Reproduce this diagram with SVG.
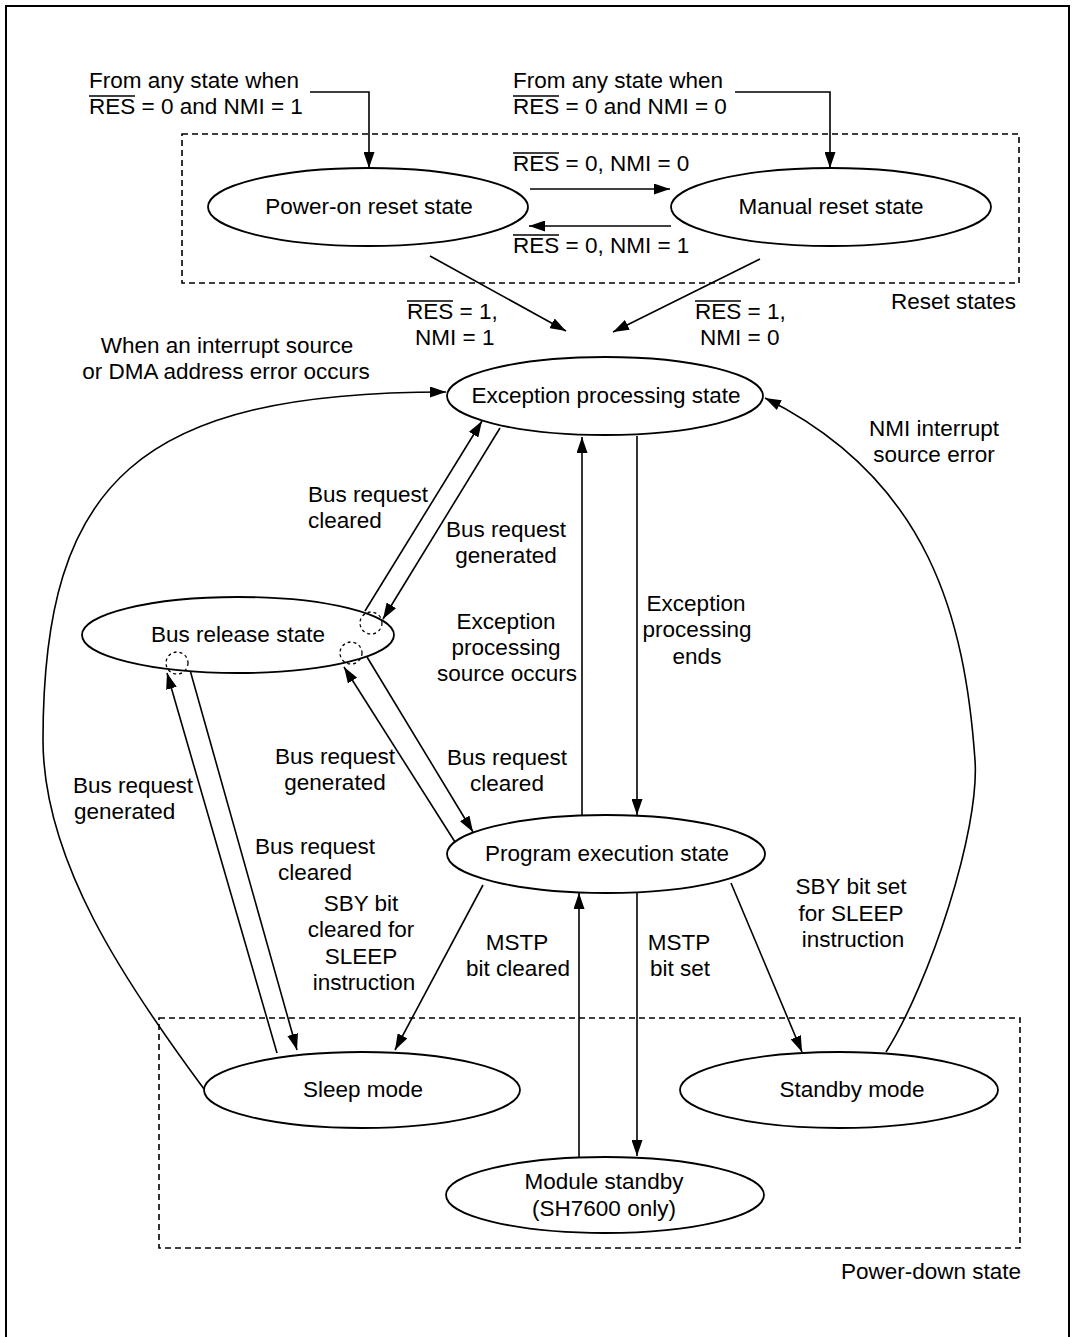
<svg xmlns="http://www.w3.org/2000/svg" width="1075" height="1337" viewBox="0 0 1075 1337">
<defs>
<marker id="arr" viewBox="0 0 16 11" refX="16" refY="5.5" markerWidth="16" markerHeight="11" markerUnits="userSpaceOnUse" orient="auto">
<path d="M0,0 L16,5.5 L0,11 z" fill="#000"/>
</marker>
<style>
text{font-family:"Liberation Sans",Arial,Helvetica,sans-serif;font-size:22.5px;fill:#000}
.m{text-anchor:middle}
.node{fill:#fff;stroke:#000;stroke-width:1.8}
.dash{fill:none;stroke:#000;stroke-width:1.6;stroke-dasharray:6,4}
.c{fill:none;stroke:#000;stroke-width:1.6}
.a{fill:none;stroke:#000;stroke-width:1.6;marker-end:url(#arr)}
.ov{stroke:#000;stroke-width:1.6}
.dc{fill:none;stroke:#000;stroke-width:1.3;stroke-dasharray:3,3}
</style>
</defs>
<rect width="1075" height="1337" fill="#fff"/>
<path d="M6,1340 V6 H1069 V1340" fill="none" stroke="#000" stroke-width="2"/>

<g id="groups">
<rect class="dash" x="182" y="134" width="837" height="149"/>
<text x="891" y="309">Reset states</text>
<rect class="dash" x="159" y="1018" width="861" height="230"/>
<text x="841" y="1279">Power-down state</text>
</g>

<g id="connectors">
<path class="a" d="M310,92 H369 V168"/>
<path class="a" d="M735,92 H830 V168"/>
<path class="a" d="M530,189 H670"/>
<path class="a" d="M671,226 H529"/>
<path class="a" d="M430,256 L566,331"/>
<path class="a" d="M760,259 L613,332"/>
<path class="a" d="M204,1089 C124,981 43,860 43,740 C43,480 140,392 446,392"/>
<path class="a" d="M886,1052 C930,982 980,830 975,760 C965,620 930,480 765,398"/>
<path class="a" d="M365,611 L482,421"/>
<path class="a" d="M500,428 L383,619"/>
<path class="a" d="M455,842 L344,667"/>
<path class="a" d="M367,657 L473,832"/>
<path class="a" d="M277,1053 L167,673"/>
<path class="a" d="M190,670 L297,1050"/>
<path class="a" d="M483,885 L395,1050"/>
<path class="a" d="M582,817 V437"/>
<path class="a" d="M637,436 V815"/>
<path class="a" d="M579,1157 V893"/>
<path class="a" d="M637,893 V1156"/>
<path class="a" d="M731,883 L802,1052"/>
</g>

<g id="labels">
<text x="89" y="88">From any state when</text>
<text x="89" y="114">RES = 0 and NMI = 1</text>
<line class="ov" x1="89" y1="96" x2="135" y2="96"/>
<text x="513" y="88">From any state when</text>
<text x="513" y="114">RES = 0 and NMI = 0</text>
<line class="ov" x1="513" y1="96" x2="559" y2="96"/>
<text x="513" y="171">RES = 0, NMI = 0</text>
<line class="ov" x1="513" y1="153" x2="559" y2="153"/>
<text x="513" y="253">RES = 0, NMI = 1</text>
<line class="ov" x1="513" y1="235" x2="559" y2="235"/>
<text x="407" y="319">RES = 1,</text>
<line class="ov" x1="407" y1="301" x2="453" y2="301"/>
<text x="415" y="345">NMI = 1</text>
<text x="695" y="319">RES = 1,</text>
<line class="ov" x1="695" y1="301" x2="741" y2="301"/>
<text x="700" y="345">NMI = 0</text>
<text class="m" x="227" y="353">When an interrupt source</text>
<text class="m" x="226" y="379">or DMA address error occurs</text>
<text class="m" x="934" y="436">NMI interrupt</text>
<text class="m" x="934" y="462">source error</text>
<text x="308" y="502">Bus request</text>
<text x="308" y="528">cleared</text>
<text class="m" x="506" y="537">Bus request</text>
<text class="m" x="506" y="563">generated</text>
<text class="m" x="506" y="629">Exception</text>
<text class="m" x="506" y="655">processing</text>
<text class="m" x="507" y="681">source occurs</text>
<text class="m" x="696" y="611">Exception</text>
<text class="m" x="697" y="637">processing</text>
<text class="m" x="697" y="664">ends</text>
<text x="73" y="793">Bus request</text>
<text x="74" y="819">generated</text>
<text class="m" x="335" y="764">Bus request</text>
<text class="m" x="335" y="790">generated</text>
<text class="m" x="507" y="765">Bus request</text>
<text class="m" x="507" y="791">cleared</text>
<text class="m" x="315" y="854">Bus request</text>
<text class="m" x="315" y="880">cleared</text>
<text class="m" x="361" y="911">SBY bit</text>
<text class="m" x="361" y="937">cleared for</text>
<text class="m" x="361" y="964">SLEEP</text>
<text class="m" x="364" y="990">instruction</text>
<text class="m" x="517" y="950">MSTP</text>
<text class="m" x="518" y="976">bit cleared</text>
<text class="m" x="679" y="950">MSTP</text>
<text class="m" x="680" y="976">bit set</text>
<text class="m" x="851" y="894">SBY bit set</text>
<text class="m" x="851" y="921">for SLEEP</text>
<text class="m" x="853" y="947">instruction</text>
</g>

<g id="power-on-reset">
<ellipse class="node" cx="368" cy="207" rx="160" ry="39"/>
<text class="m" x="369" y="214">Power-on reset state</text>
</g>
<g id="manual-reset">
<ellipse class="node" cx="831" cy="207" rx="160" ry="39"/>
<text class="m" x="831" y="214">Manual reset state</text>
</g>
<g id="exception-processing">
<ellipse class="node" cx="605" cy="396" rx="158" ry="39"/>
<text class="m" x="606" y="403">Exception processing state</text>
</g>
<g id="bus-release">
<ellipse class="node" cx="238" cy="635" rx="156" ry="38"/>
<text class="m" x="238" y="642">Bus release state</text>
<circle class="dc" cx="371" cy="623" r="11"/>
<circle class="dc" cx="351" cy="653" r="11"/>
<circle class="dc" cx="177" cy="663" r="11"/>
</g>
<g id="program-execution">
<ellipse class="node" cx="606" cy="854" rx="159" ry="39"/>
<text class="m" x="607" y="861">Program execution state</text>
</g>
<g id="sleep-mode">
<ellipse class="node" cx="362" cy="1090" rx="158" ry="38"/>
<text class="m" x="363" y="1097">Sleep mode</text>
</g>
<g id="standby-mode">
<ellipse class="node" cx="839" cy="1090" rx="159" ry="38"/>
<text class="m" x="852" y="1097">Standby mode</text>
</g>
<g id="module-standby">
<ellipse class="node" cx="605" cy="1195" rx="159" ry="38"/>
<text class="m" x="604" y="1189">Module standby</text>
<text class="m" x="604" y="1216">(SH7600 only)</text>
</g>
</svg>
